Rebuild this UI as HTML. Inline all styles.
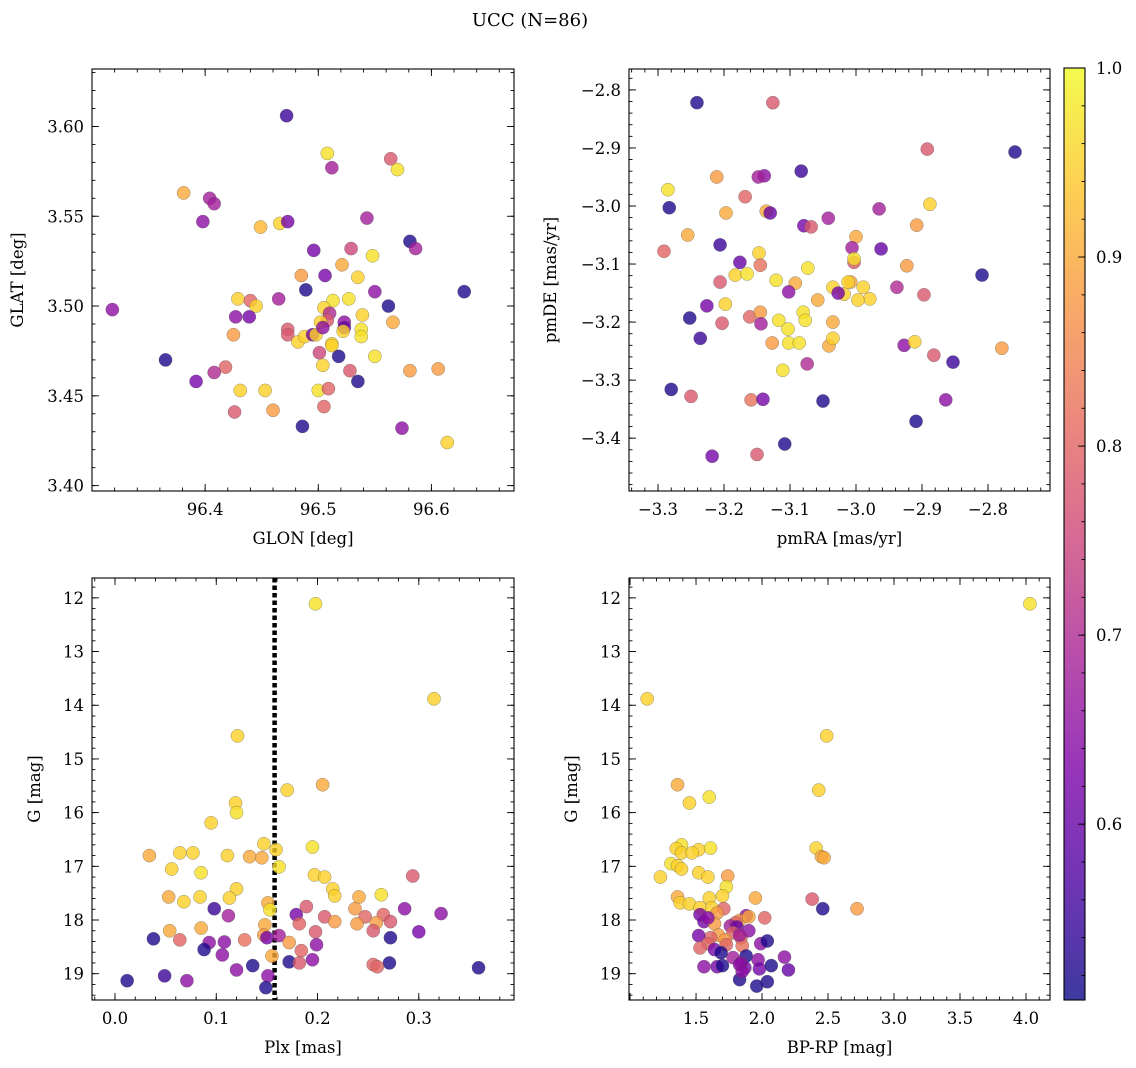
<!DOCTYPE html>
<html><head><meta charset="utf-8">
<style>
body{margin:0;background:#fff;}
svg{display:block;font-family:"DejaVu Serif","Liberation Serif",serif;}
</style></head>
<body>
<svg id="fig" width="1136" height="1068" xmlns="http://www.w3.org/2000/svg">
<rect width="1136" height="1068" fill="#fff"/>
<text x="530" y="26" font-size="18" text-anchor="middle">UCC (N=86)</text>
<defs><linearGradient id="cmap" x1="0" y1="1" x2="0" y2="0">
<stop offset="0" stop-color="#0d0887"/><stop offset="0.125" stop-color="#4c02a1"/><stop offset="0.25" stop-color="#7e03a8"/><stop offset="0.375" stop-color="#a92395"/><stop offset="0.5" stop-color="#cc4778"/><stop offset="0.625" stop-color="#e66c5c"/><stop offset="0.75" stop-color="#f89540"/><stop offset="0.875" stop-color="#fdc527"/><stop offset="1" stop-color="#f0f921"/>
</linearGradient></defs>
</svg>
<script>
// ---- Panel 1: GLON / GLAT ----
const glon=[96.472,96.508,96.512,96.564,96.570,96.381,96.404,96.408,96.398,96.449,96.466,96.473,96.543,96.581,96.496,96.529,96.586,96.521,96.548,96.485,96.506,96.535,96.629,96.318,96.429,96.440,96.445,96.465,96.489,96.513,96.527,96.550,96.562,96.566,96.427,96.439,96.505,96.510,96.523,96.523,96.539,96.508,96.502,96.425,96.473,96.473,96.482,96.488,96.495,96.498,96.504,96.512,96.522,96.538,96.538,96.365,96.501,96.512,96.518,96.550,96.418,96.408,96.392,96.504,96.581,96.606,96.528,96.431,96.453,96.500,96.509,96.535,96.460,96.426,96.505,96.486,96.574,96.614];
const glat=[3.606,3.585,3.577,3.582,3.576,3.563,3.560,3.557,3.547,3.544,3.546,3.547,3.549,3.536,3.531,3.532,3.532,3.523,3.528,3.517,3.517,3.516,3.508,3.498,3.504,3.503,3.500,3.504,3.509,3.503,3.504,3.508,3.500,3.491,3.494,3.494,3.499,3.496,3.491,3.488,3.495,3.492,3.491,3.484,3.487,3.484,3.480,3.483,3.484,3.484,3.488,3.479,3.486,3.487,3.483,3.470,3.474,3.478,3.472,3.472,3.466,3.463,3.458,3.467,3.464,3.465,3.464,3.453,3.453,3.453,3.454,3.458,3.442,3.441,3.444,3.433,3.432,3.424];
const prob1=[0.55,0.97,0.68,0.78,0.97,0.9,0.68,0.68,0.65,0.92,0.95,0.62,0.68,0.52,0.62,0.75,0.68,0.9,0.97,0.88,0.62,0.95,0.52,0.65,0.95,0.8,0.95,0.68,0.52,0.97,0.97,0.65,0.52,0.9,0.65,0.62,0.95,0.7,0.65,0.6,0.95,0.78,0.95,0.88,0.78,0.78,0.95,0.95,0.62,0.95,0.65,0.95,0.95,0.97,0.97,0.52,0.75,0.95,0.52,0.97,0.8,0.7,0.62,0.95,0.88,0.88,0.78,0.95,0.95,0.97,0.8,0.52,0.88,0.78,0.8,0.52,0.65,0.95];
// ---- Panel 2: pmRA / pmDE ----
const pmra=[-3.241,-3.126,-2.759,-2.892,-3.083,-3.139,-3.148,-3.285,-3.211,-3.168,-3.283,-3.197,-3.136,-3.130,-2.888,-2.965,-3.255,-3.079,-3.068,-3.042,-2.908,-3.000,-3.291,-3.206,-2.962,-3.006,-3.176,-3.147,-3.145,-3.003,-3.183,-3.165,-3.121,-3.092,-3.073,-2.809,-3.206,-3.003,-2.923,-2.979,-3.018,-3.008,-3.012,-3.035,-3.226,-3.198,-3.102,-3.058,-3.027,-2.997,-2.989,-2.938,-2.897,-3.161,-3.145,-3.117,-3.080,-3.077,-3.144,-3.252,-3.203,-3.236,-3.103,-3.035,-3.102,-3.127,-3.086,-3.041,-3.035,-2.927,-2.911,-2.882,-2.853,-2.779,-3.111,-3.280,-3.074,-3.250,-3.159,-3.141,-3.050,-2.864,-2.909,-3.108,-3.218,-3.150];
const pmde=[-2.822,-2.822,-2.907,-2.902,-2.940,-2.948,-2.950,-2.972,-2.950,-2.984,-3.003,-3.012,-3.009,-3.012,-2.997,-3.005,-3.050,-3.034,-3.036,-3.021,-3.033,-3.053,-3.078,-3.067,-3.074,-3.072,-3.097,-3.081,-3.102,-3.097,-3.119,-3.117,-3.128,-3.133,-3.107,-3.119,-3.131,-3.091,-3.103,-3.160,-3.152,-3.131,-3.131,-3.140,-3.172,-3.169,-3.148,-3.162,-3.150,-3.162,-3.140,-3.140,-3.153,-3.191,-3.183,-3.197,-3.183,-3.197,-3.203,-3.193,-3.202,-3.228,-3.212,-3.200,-3.236,-3.236,-3.236,-3.241,-3.228,-3.240,-3.234,-3.257,-3.269,-3.245,-3.283,-3.316,-3.272,-3.328,-3.334,-3.333,-3.336,-3.334,-3.371,-3.410,-3.431,-3.428];
const prob2=[0.52,0.78,0.52,0.78,0.55,0.65,0.68,0.97,0.88,0.8,0.52,0.9,0.9,0.6,0.95,0.68,0.9,0.62,0.78,0.68,0.88,0.9,0.8,0.55,0.6,0.68,0.6,0.95,0.82,0.78,0.95,0.97,0.97,0.9,0.97,0.52,0.78,0.97,0.88,0.95,0.95,0.9,0.95,0.95,0.62,0.95,0.65,0.9,0.62,0.95,0.95,0.7,0.78,0.8,0.88,0.97,0.97,0.97,0.68,0.52,0.78,0.55,0.97,0.9,0.97,0.88,0.97,0.9,0.95,0.65,0.95,0.78,0.55,0.88,0.97,0.52,0.7,0.78,0.82,0.62,0.52,0.65,0.52,0.52,0.62,0.78];
// ---- Panel 3: Plx / G ----
const plx=[0.198,0.315,0.121,0.205,0.170,0.119,0.120,0.095,0.147,0.159,0.195,0.064,0.077,0.034,0.133,0.145,0.111,0.056,0.085,0.162,0.197,0.207,0.215,0.294,0.120,0.053,0.068,0.084,0.113,0.151,0.153,0.217,0.263,0.241,0.098,0.189,0.207,0.179,0.286,0.237,0.112,0.247,0.265,0.322,0.258,0.217,0.239,0.272,0.182,0.148,0.054,0.085,0.147,0.198,0.064,0.038,0.128,0.150,0.108,0.093,0.199,0.162,0.172,0.255,0.300,0.272,0.088,0.184,0.106,0.155,0.195,0.172,0.182,0.255,0.271,0.136,0.120,0.259,0.359,0.012,0.049,0.071,0.151,0.149];
const g3=[12.11,13.88,14.57,15.48,15.58,15.82,16.00,16.19,16.58,16.69,16.64,16.75,16.75,16.80,16.82,16.84,16.80,17.05,17.12,17.01,17.16,17.20,17.42,17.18,17.42,17.57,17.66,17.57,17.59,17.68,17.81,17.55,17.53,17.57,17.79,17.75,17.94,17.90,17.79,17.79,17.92,17.94,17.90,17.88,18.05,18.03,18.07,18.03,18.07,18.09,18.20,18.15,18.28,18.22,18.37,18.35,18.37,18.33,18.41,18.42,18.46,18.29,18.42,18.20,18.22,18.33,18.55,18.57,18.65,18.67,18.74,18.78,18.80,18.83,18.80,18.85,18.93,18.87,18.89,19.13,19.04,19.13,19.04,19.26];
const prob3=[0.97,0.95,0.95,0.9,0.95,0.95,0.97,0.95,0.95,0.95,0.97,0.95,0.95,0.9,0.9,0.9,0.95,0.95,0.97,0.97,0.95,0.95,0.95,0.78,0.95,0.9,0.95,0.95,0.95,0.9,0.97,0.95,0.97,0.9,0.55,0.78,0.78,0.62,0.65,0.88,0.68,0.8,0.8,0.65,0.88,0.88,0.88,0.78,0.8,0.9,0.9,0.9,0.88,0.78,0.8,0.52,0.82,0.62,0.65,0.65,0.65,0.68,0.88,0.78,0.62,0.52,0.52,0.8,0.65,0.9,0.65,0.52,0.78,0.8,0.52,0.52,0.65,0.8,0.52,0.52,0.55,0.65,0.65,0.52];
const plxCut=[0.1576];
// ---- Panel 4: BP-RP / G ----
const bprp=[4.03,1.13,2.49,1.36,1.45,1.60,2.43,1.39,1.35,1.52,1.61,1.39,1.47,2.41,2.45,2.47,1.31,1.36,1.23,1.39,1.52,1.59,1.74,1.73,1.60,1.70,1.95,1.36,1.38,1.45,1.53,1.62,1.71,1.66,2.46,2.72,2.38,1.53,1.88,2.02,1.83,1.80,1.56,1.64,1.90,1.59,1.76,1.81,1.78,1.67,1.61,1.52,1.84,1.90,1.59,1.85,1.83,1.72,1.99,1.53,1.64,2.04,1.73,1.88,1.78,1.97,1.84,1.66,1.56,2.17,1.87,1.98,1.83,1.83,1.85,2.20,2.04,2.07,1.96,1.70,1.69];
const g4=[12.11,13.88,14.57,15.48,15.82,15.71,15.58,16.60,16.67,16.69,16.66,16.75,16.75,16.66,16.82,16.84,16.95,16.99,17.20,17.05,17.12,17.20,17.18,17.38,17.59,17.55,17.59,17.57,17.68,17.70,17.77,17.77,17.79,17.87,17.79,17.79,17.61,17.90,17.92,17.96,18.01,18.05,18.03,18.07,17.94,17.96,18.11,18.13,18.24,18.28,18.33,18.29,18.33,18.20,18.44,18.48,18.28,18.37,18.44,18.52,18.55,18.39,18.46,18.67,18.70,18.74,18.80,18.87,18.87,18.69,18.89,18.91,18.83,19.11,18.96,18.93,19.15,18.85,19.23,18.85,18.61];
const prob4=[0.97,0.95,0.95,0.9,0.95,0.97,0.95,0.97,0.95,0.95,0.97,0.95,0.95,0.95,0.9,0.9,0.97,0.95,0.95,0.95,0.95,0.95,0.88,0.97,0.95,0.95,0.9,0.9,0.95,0.95,0.95,0.95,0.8,0.88,0.52,0.88,0.78,0.62,0.65,0.8,0.88,0.8,0.62,0.88,0.9,0.65,0.68,0.6,0.8,0.88,0.8,0.62,0.8,0.65,0.8,0.82,0.68,0.88,0.65,0.8,0.62,0.52,0.8,0.52,0.68,0.65,0.65,0.62,0.65,0.65,0.62,0.62,0.65,0.52,0.65,0.6,0.52,0.52,0.52,0.52,0.52];
const cbTicks=[0.6,0.7,0.8,0.9,1.0];
const VMIN=0.507, VMAX=1.0;

const NS="http://www.w3.org/2000/svg";
const svg=document.getElementById('fig');
const FS=16.5;
const stops=[[0,13,8,135],[0.125,76,2,161],[0.25,126,3,168],[0.375,169,35,149],[0.5,204,71,120],[0.625,230,108,92],[0.75,248,149,64],[0.875,253,197,39],[1,240,249,33]];
function cmap(v){let t=Math.max(0,Math.min(1,(v-VMIN)/(VMAX-VMIN)));
 for(let i=1;i<stops.length;i++){if(t<=stops[i][0]){const a=stops[i-1],b=stops[i],f=(t-a[0])/(b[0]-a[0]);
 return `rgb(${Math.round(a[1]+f*(b[1]-a[1]))},${Math.round(a[2]+f*(b[2]-a[2]))},${Math.round(a[3]+f*(b[3]-a[3]))})`;}}return 'rgb(240,249,33)';}
function el(tag,attrs,parent){const e=document.createElementNS(NS,tag);for(const k in attrs)e.setAttribute(k,attrs[k]);(parent||svg).appendChild(e);return e;}

function panel(o){
 const g=el('g',{});
 
 
 const sx=v=>o.x0+(v-o.xlim[0])/(o.xlim[1]-o.xlim[0])*(o.x1-o.x0);
 const sy=v=>o.y1-(v-o.ylim[0])/(o.ylim[1]-o.ylim[0])*(o.y1-o.y0);
 const clipId='clip'+o.name;
 const cp=el('clipPath',{id:clipId},g);el('rect',{x:o.x0,y:o.y0,width:o.x1-o.x0,height:o.y1-o.y0},cp);
 const marks=el('g',{'clip-path':`url(#${clipId})`},g);
 if(o.extra)o.extra(marks,sx,sy);
 for(let i=0;i<o.xs.length;i++){
  const c=el('circle',{cx:sx(o.xs[i]),cy:sy(o.ys[i]),r:6.6,fill:cmap(o.cs[i]),'fill-opacity':0.8,stroke:'#555','stroke-opacity':0.6,'stroke-width':0.5},marks);
  
  
 }
 el('rect',{x:o.x0,y:o.y0,width:o.x1-o.x0,height:o.y1-o.y0,fill:'none',stroke:'#000','stroke-width':1.1},g);
 const tk=(v0,v1,step,len,axis)=>{const a=Math.min(v0,v1),b=Math.max(v0,v1);const n0=Math.ceil(a/step-1e-6),n1=Math.floor(b/step+1e-6);
  for(let n=n0;n<=n1;n++){const v=n*step;
   if(axis==='x'){const x=sx(v);el('line',{x1:x,x2:x,y1:o.y1,y2:o.y1-len,stroke:'#000','stroke-width':0.9},g);el('line',{x1:x,x2:x,y1:o.y0,y2:o.y0+len,stroke:'#000','stroke-width':0.9},g);}
   else{const y=sy(v);el('line',{x1:o.x0,x2:o.x0+len,y1:y,y2:y,stroke:'#000','stroke-width':0.9},g);el('line',{x1:o.x1,x2:o.x1-len,y1:y,y2:y,stroke:'#000','stroke-width':0.9},g);}}};
 tk(o.xlim[0],o.xlim[1],o.xminor,3.5,'x');tk(o.ylim[0],o.ylim[1],o.yminor,3.5,'y');
 tk(o.xlim[0],o.xlim[1],o.xmajor,7,'x');tk(o.ylim[0],o.ylim[1],o.ymajor,7,'y');
 o.xticks.forEach((v,i)=>{const t=el('text',{x:sx(v),y:o.y1+24,'font-size':FS,'text-anchor':'middle'},g);t.textContent=o.xlab[i];
  });
 o.yticks.forEach((v,i)=>{const t=el('text',{x:o.x0-8,y:sy(v)+6,'font-size':FS,'text-anchor':'end'},g);t.textContent=o.ylab[i];
  });
 const xt=el('text',{x:(o.x0+o.x1)/2,y:o.y1+53,'font-size':FS,'text-anchor':'middle'},g);xt.textContent=o.xtitle;
 
 const cy=(o.y0+o.y1)/2;const yt=el('text',{x:o.ytx,y:cy,'font-size':FS,'text-anchor':'middle',transform:`rotate(-90 ${o.ytx} ${cy})`},g);yt.textContent=o.ytitle;
 
}
panel({name:'glon-glat-panel',x0:92,x1:514,y0:69,y1:491,xlim:[96.3,96.673],ylim:[3.397,3.632],xs:glon,ys:glat,cs:prob1,
 xmajor:0.1,xminor:0.02,ymajor:0.05,yminor:0.01,xticks:[96.4,96.5,96.6],xlab:['96.4','96.5','96.6'],
 yticks:[3.40,3.45,3.50,3.55,3.60],ylab:['3.40','3.45','3.50','3.55','3.60'],xtitle:'GLON [deg]',ytitle:'GLAT [deg]',ytx:23});
panel({name:'pm-panel',x0:629,x1:1050,y0:69,y1:491,xlim:[-3.344,-2.706],ylim:[-3.491,-2.764],xs:pmra,ys:pmde,cs:prob2,
 xmajor:0.1,xminor:0.02,ymajor:0.1,yminor:0.02,xticks:[-3.3,-3.2,-3.1,-3.0,-2.9,-2.8],xlab:['\u22123.3','\u22123.2','\u22123.1','\u22123.0','\u22122.9','\u22122.8'],
 yticks:[-3.4,-3.3,-3.2,-3.1,-3.0,-2.9,-2.8],ylab:['\u22123.4','\u22123.3','\u22123.2','\u22123.1','\u22123.0','\u22122.9','\u22122.8'],xtitle:'pmRA [mas/yr]',ytitle:'pmDE [mas/yr]',ytx:556});
panel({name:'plx-g-panel',x0:92,x1:514,y0:578,y1:1000,xlim:[-0.0227,0.394],ylim:[-19.49,-11.63],xs:plx,ys:g3.map(v=>-v),cs:prob3,
 xmajor:0.1,xminor:0.02,ymajor:1,yminor:0.2,xticks:[0,0.1,0.2,0.3],xlab:['0.0','0.1','0.2','0.3'],
 yticks:[-12,-13,-14,-15,-16,-17,-18,-19],ylab:['12','13','14','15','16','17','18','19'],xtitle:'Plx [mas]',ytitle:'G [mag]',ytx:40,
 extra:(m,sx,sy)=>{plxCut.forEach(v=>{const l=el('line',{x1:sx(v),x2:sx(v),y1:578,y2:1000,stroke:'#000','stroke-width':4.5,'stroke-dasharray':'4.5 3'},m);
  });}});
panel({name:'cmd-panel',x0:629,x1:1050,y0:578,y1:1000,xlim:[0.992,4.182],ylim:[-19.49,-11.63],xs:bprp,ys:g4.map(v=>-v),cs:prob4,
 xmajor:0.5,xminor:0.1,ymajor:1,yminor:0.2,xticks:[1.5,2,2.5,3,3.5,4],xlab:['1.5','2.0','2.5','3.0','3.5','4.0'],
 yticks:[-12,-13,-14,-15,-16,-17,-18,-19],ylab:['12','13','14','15','16','17','18','19'],xtitle:'BP-RP [mag]',ytitle:'G [mag]',ytx:577});
(function(){const x0=1064,x1=1085,y0=68,y1=1000;
 const g=el('g',{});
 
 
 el('rect',{x:x0,y:y0,width:x1-x0,height:y1-y0,fill:'url(#cmap)','fill-opacity':0.8},g);
 el('rect',{x:x0,y:y0,width:x1-x0,height:y1-y0,fill:'none',stroke:'#000','stroke-width':1.1},g);
 const sy=v=>y1-(v-VMIN)/(VMAX-VMIN)*(y1-y0);
 for(let v=0.52;v<=1.0001;v+=0.02){const y=sy(v);el('line',{x1:x1,x2:x1-3.5,y1:y,y2:y,stroke:'#000','stroke-width':0.9},g);}
 cbTicks.forEach(v=>{const y=sy(v);el('line',{x1:x1,x2:x1-7,y1:y,y2:y,stroke:'#000','stroke-width':0.9},g);
  const t=el('text',{x:x1+11,y:y+6,'font-size':FS},g);t.textContent=v.toFixed(1);
  });
})();
</script>
</body></html>
